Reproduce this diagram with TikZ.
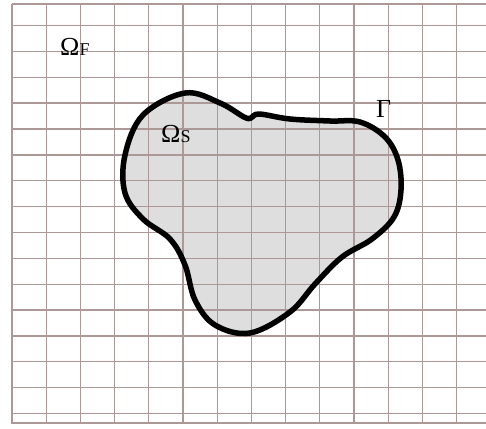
\documentclass[tikz,border=0pt]{standalone}
\usepackage{fontspec}
\setmainfont{Liberation Serif}
\definecolor{gridc}{RGB}{172,152,150}
\definecolor{blobfill}{RGB}{222,222,222}
\tikzset{
  gridline/.style={draw=gridc, line width=1.3pt},
  blobline/.style={draw=black, line width=5.5pt, line join=round},
  lbl/.style={anchor=base west, inner sep=0pt, font=\fontsize{26}{26}\selectfont},
}
\newcommand{\subsz}{\fontsize{18}{18}\selectfont}
\newcommand{\blobpts}{(185,93) (220,103) (244,117) (251,118) (259,114) (290,119) (330,121) (360,122)
 (385,137) (398,160) (401,190) (394,217) (372,239) (342,257) (315,284) (290,312)
 (250,333) (215,325) (195,300) (185,265) (170,239) (143,219) (125,193) (125,155) (143,115)}
\begin{document}
\begin{tikzpicture}[x=1pt,y=-1pt]
\useasboundingbox (0,0) rectangle (486,428);
\fill[white] (0,0) rectangle (486,428);
% blob fill
\fill[blobfill] plot[smooth cycle, tension=0.6] coordinates {\blobpts};
% grid
\foreach \k in {0,...,13}{
  \draw[gridline] ({12+34.2*\k},4) -- ({12+34.2*\k},424);
}
\foreach \k in {0,...,15}{
  \draw[gridline] (12,{25.5+25.87*\k}) -- (486,{25.5+25.87*\k});
}
\draw[gridline] (12,4) -- (486,4);
\draw[gridline] (12,423) -- (486,423);
% blob outline
\draw[blobline] plot[smooth cycle, tension=0.6] coordinates {\blobpts};
% labels
\node[lbl] (omegaF) at (60,56) {Ω{\subsz F}};
\node[lbl] (omegaS) at (161,142) {Ω{\subsz S}};
\node[lbl] (gamma) at (376,117) {Γ};
\end{tikzpicture}
\end{document}
